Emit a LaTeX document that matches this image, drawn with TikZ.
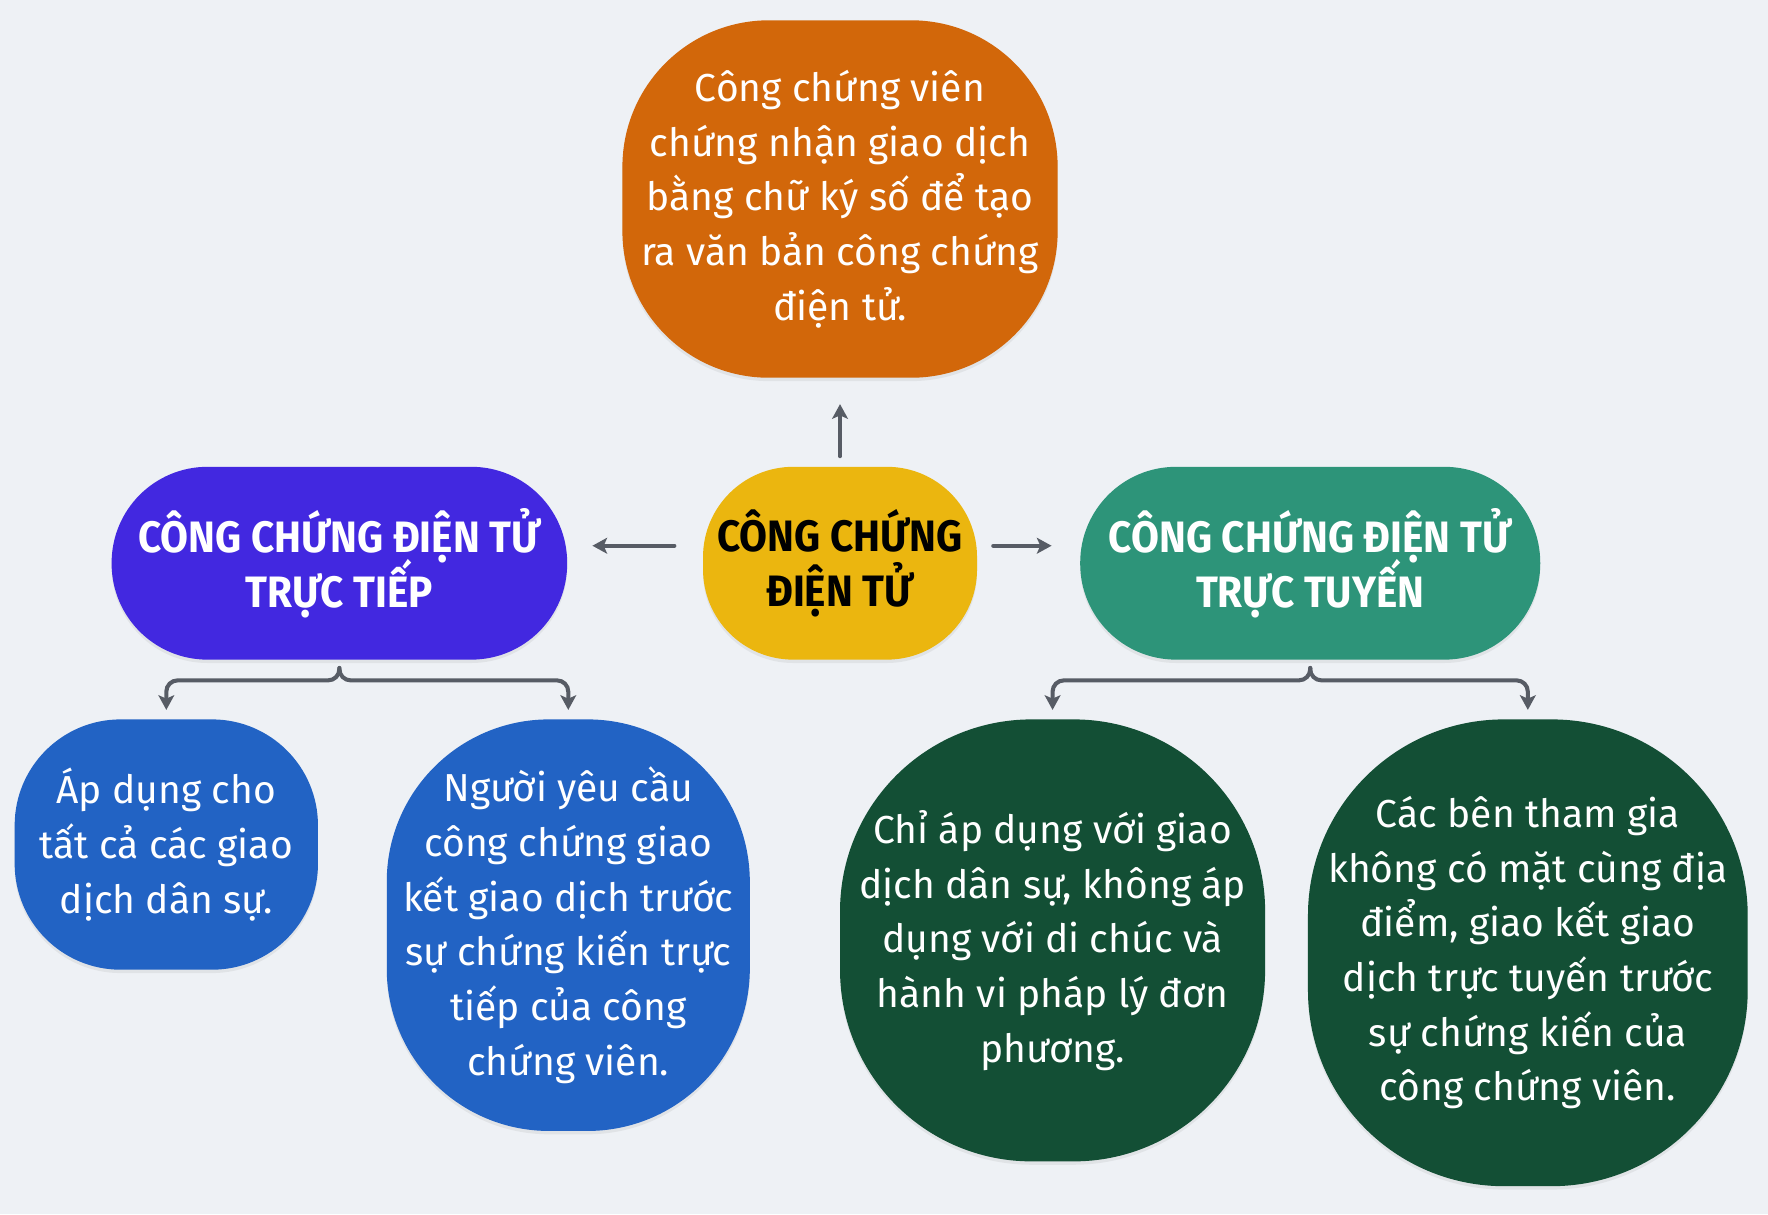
\documentclass[tikz,border=0pt]{standalone}
\usepackage{fontspec}
\setmainfont{Fira Sans}
\newfontfamily\headfont{Fira Sans}[FakeStretch=0.92]
\usetikzlibrary{arrows.meta, shadows}
\definecolor{bgc}{HTML}{EEF1F5}
\definecolor{orangec}{HTML}{D2670A}
\definecolor{yellowc}{HTML}{EBB60F}
\definecolor{violetc}{HTML}{4228E0}
\definecolor{tealc}{HTML}{2D9479}
\definecolor{bluec}{HTML}{2263C4}
\definecolor{forestc}{HTML}{134F35}
\definecolor{linkc}{HTML}{575C65}
\newcommand{\tightlines}{\lineskiplimit=-30pt\relax}

\begin{document}
\begin{tikzpicture}[x=0.5pt, y=-0.5pt,
    blob/.style={rectangle, inner sep=0pt, align=center, text=white,
      font=\fontsize{17.3}{24.25}\selectfont\tightlines,
      drop shadow={shadow xshift=0pt, shadow yshift=-1.5pt, opacity=0.12}},
    head/.style={blob, font=\headfont\bfseries\fontsize{19.5}{24.25}\selectfont\tightlines},
    link/.style={draw=linkc, line width=1.8pt, line cap=round,
      -{Stealth[length=6.5pt, width=7pt, inset=1.5pt]}},
    fork/.style={link, rounded corners=5pt}]
  \fill[bgc] (0,0) rectangle (1568,1077);

  \node[blob, fill=orangec, minimum width=193pt, minimum height=158.5pt,
    rounded corners=65pt] (res) at (745,176.5)
    {Công chứng viên\\chứng nhận giao dịch\\bằng chữ ký số để tạo\\ra văn bản công chứng\\điện tử.};
  \node[head, fill=yellowc, text=black, minimum width=121.5pt, minimum height=85.5pt,
    rounded corners=40pt] (core) at (745,499.5) {CÔNG CHỨNG\\ĐIỆN TỬ};
  \node[head, fill=violetc, minimum width=202pt, minimum height=85.5pt,
    rounded corners=42.5pt] (direct) at (301,499.5) {CÔNG CHỨNG ĐIỆN TỬ\\TRỰC TIẾP};
  \node[head, fill=tealc, minimum width=204pt, minimum height=85.5pt,
    rounded corners=42.5pt] (online) at (1162,499.5) {CÔNG CHỨNG ĐIỆN TỬ\\TRỰC TUYẾN};

  \node[blob, fill=bluec, minimum width=134.5pt, minimum height=111pt,
    rounded corners=47pt] (d1) at (147.5,749)
    {Áp dụng cho\\tất cả các giao\\dịch dân sự.};
  \node[blob, fill=bluec, minimum width=161pt, minimum height=182.5pt,
    rounded corners=72pt] (d2) at (504,820.5)
    {Người yêu cầu\\công chứng giao\\kết giao dịch trước\\sự chứng kiến trực\\tiếp của công\\chứng viên.};
  \node[blob, fill=forestc, minimum width=188.5pt, minimum height=196pt,
    rounded corners=85pt] (o1) at (933.5,834)
    {Chỉ áp dụng với giao\\dịch dân sự, không áp\\dụng với di chúc và\\hành vi pháp lý đơn\\phương.};
  \node[blob, fill=forestc, minimum width=195pt, minimum height=207pt,
    rounded corners=87pt] (o2) at (1355,845)
    {Các bên tham gia\\không có mặt cùng địa\\điểm, giao kết giao\\dịch trực tuyến trước\\sự chứng kiến của\\công chứng viên.};

  % main arrows
  \draw[link, shorten <=4.5pt, shorten >=11.5pt] (core.north) -- (res.south);
  \draw[link, shorten <=12.5pt, shorten >=11pt] ([yshift=7.75pt]core.west) -- ([yshift=7.75pt]direct.east);
  \draw[link, shorten <=7pt, shorten >=12.5pt] ([yshift=7.75pt]core.east) -- ([yshift=7.75pt]online.west);

  % forks to the details
  \draw[fork] ([yshift=-3.5pt]direct.south) -- ([yshift=-9pt]direct.south) -| ([yshift=4pt]d1.north);
  \draw[fork] ([yshift=-3.5pt]direct.south) -- ([yshift=-9pt]direct.south) -| ([yshift=4pt]d2.north);
  \draw[fork] ([yshift=-3.5pt]online.south) -- ([yshift=-9pt]online.south) -| ([yshift=4pt]o1.north);
  \draw[fork] ([yshift=-3.5pt]online.south) -- ([yshift=-9pt]online.south) -| ([yshift=4pt]o2.north);
\end{tikzpicture}
\end{document}
